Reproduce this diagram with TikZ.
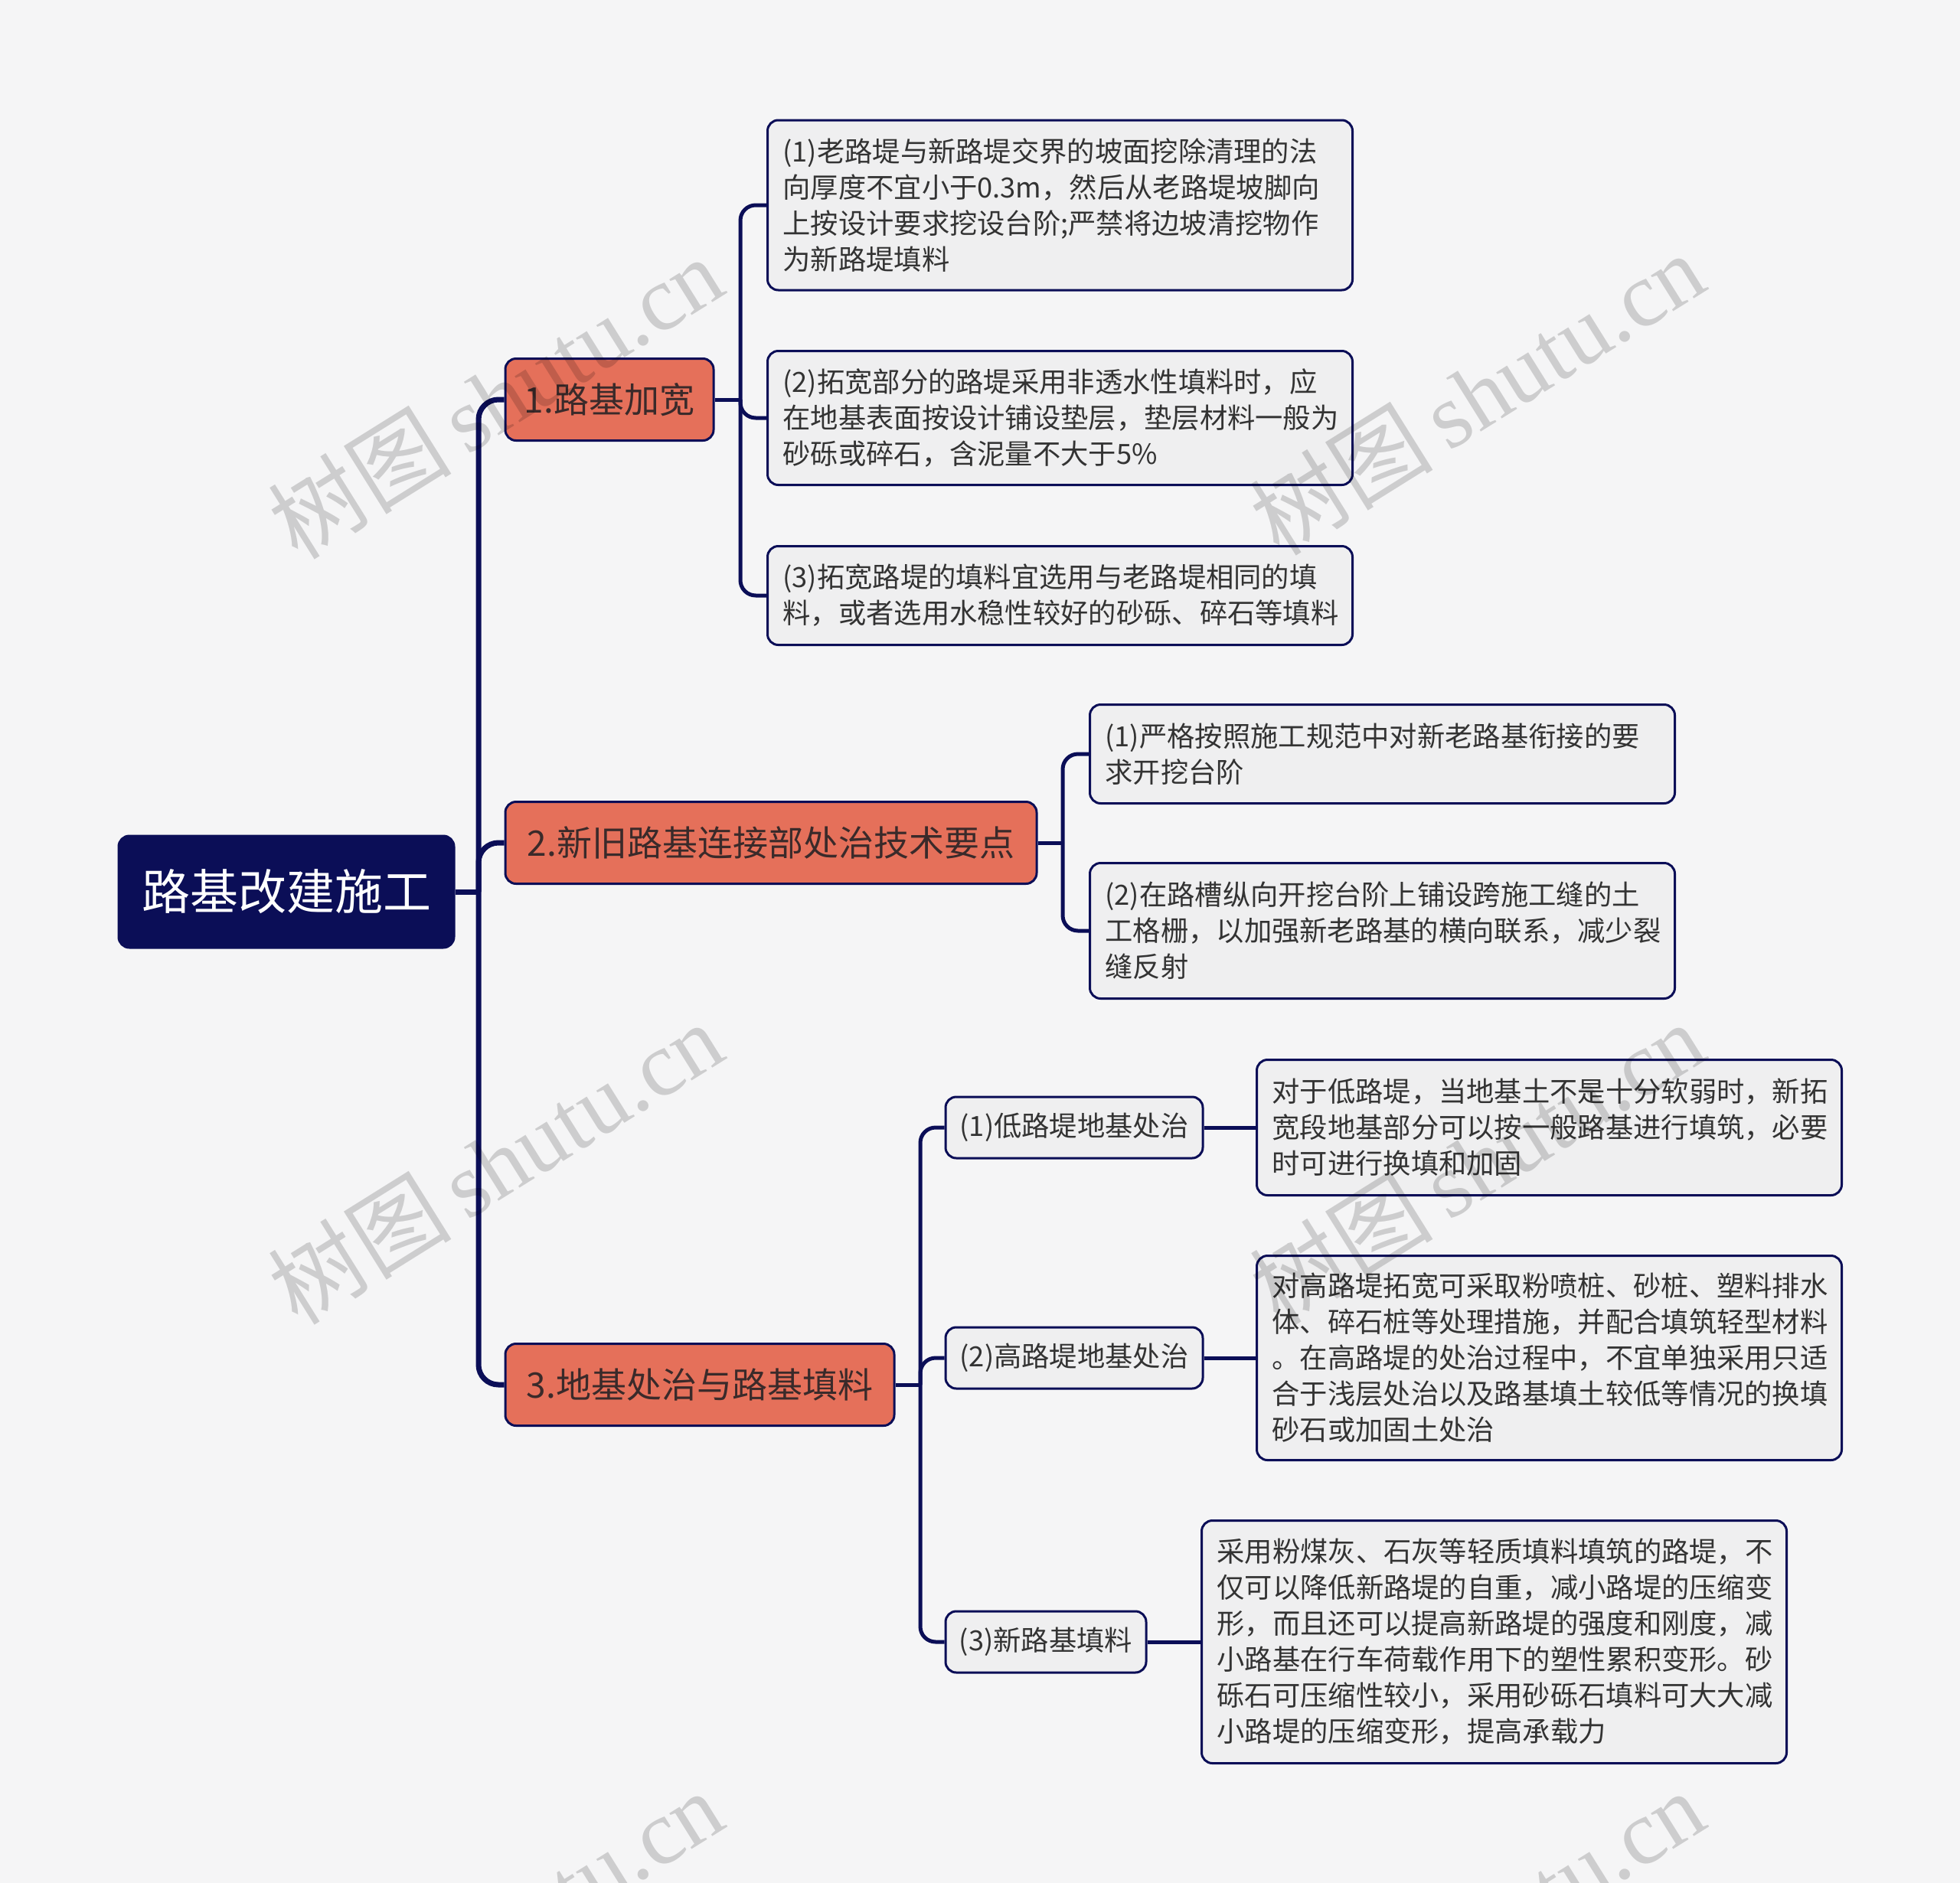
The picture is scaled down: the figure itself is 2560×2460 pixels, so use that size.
\documentclass[tikz,border=0pt]{standalone}
\usepackage{fontspec}
\setmainfont{Noto Sans CJK SC}
\newfontfamily\wmlatin{Liberation Serif}
\newfontfamily\wmcjk{Noto Sans CJK SC}
\definecolor{bgc}{HTML}{F5F5F6}
\definecolor{navy}{HTML}{0B0E57}
\definecolor{salmon}{HTML}{E5705A}
\definecolor{leaffill}{HTML}{EFEFF0}
\definecolor{txt}{HTML}{333333}
\definecolor{ltxt}{HTML}{3A2A2A}
\tikzset{
  box/.style={draw=navy, line width=3pt, rounded corners=14pt, text=txt},
  rootbox/.style={box, fill=navy, text=white, font=\fontsize{63}{72}\selectfont, minimum width=438pt, minimum height=146pt, inner sep=0pt},
  lonebox/.style={box, fill=salmon, text=ltxt, font=\fontsize{46}{54}\selectfont, minimum height=107pt, inner sep=0pt},
  leaf/.style={box, fill=leaffill, font=\fontsize{36.3}{47}\selectfont, align=left, inner xsep=20pt, inner ysep=0pt, text width=724pt, anchor=west},
  smallbox/.style={box, fill=leaffill, font=\fontsize{36.3}{47}\selectfont, minimum height=80pt, inner sep=0pt},
  trunk/.style={draw=navy, line width=7pt, rounded corners=26pt},
  conn/.style={draw=navy, line width=5pt, rounded corners=20pt},
  wmark/.style={text=black, text opacity=0.16, rotate=32, font=\fontsize{120}{130}\selectfont, inner sep=0pt}
}
\begin{document}
\begin{tikzpicture}[x=1pt,y=-1pt]
\useasboundingbox (0,0) rectangle (2560,2460);
\fill[bgc] (0,0) rectangle (2560,2460);

% nodes
\node[rootbox] (root) at (374,1165) {路基改建施工};
\node[lonebox, minimum width=272pt] (n1) at (796,522) {1.路基加宽};
\node[lonebox, minimum width=694pt] (n2) at (1007,1101) {2.新旧路基连接部处治技术要点};
\node[lonebox, minimum width=508pt] (n3) at (914,1809) {3.地基处治与路基填料};

\node[leaf, minimum height=222pt] (c11) at (1001,268) {(1)老路堤与新路堤交界的坡面挖除清理的法\\向厚度不宜小于0.3m，然后从老路堤坡脚向\\上按设计要求挖设台阶;严禁将边坡清挖物作\\为新路堤填料};
\node[leaf, minimum height=175pt] (c12) at (1001,546) {(2)拓宽部分的路堤采用非透水性填料时，应\\在地基表面按设计铺设垫层，垫层材料一般为\\砂砾或碎石，含泥量不大于5\%};
\node[leaf, minimum height=129pt] (c13) at (1001,778) {(3)拓宽路堤的填料宜选用与老路堤相同的填\\料，或者选用水稳性较好的砂砾、碎石等填料};

\node[leaf, minimum height=129pt] (c21) at (1422,985) {(1)严格按照施工规范中对新老路基衔接的要\\求开挖台阶};
\node[leaf, minimum height=177pt] (c22) at (1422,1216) {(2)在路槽纵向开挖台阶上铺设跨施工缝的土\\工格栅，以加强新老路基的横向联系，减少裂\\缝反射};

\node[smallbox, minimum width=336pt] (c31) at (1403,1473) {(1)低路堤地基处治};
\node[smallbox, minimum width=336pt] (c32) at (1403,1774) {(2)高路堤地基处治};
\node[smallbox, minimum width=262pt] (c33) at (1366,2145) {(3)新路基填料};

\node[leaf, minimum height=177pt] (d31) at (1640,1473) {对于低路堤，当地基土不是十分软弱时，新拓\\宽段地基部分可以按一般路基进行填筑，必要\\时可进行换填和加固};
\node[leaf, minimum height=267pt] (d32) at (1640,1774) {对高路堤拓宽可采取粉喷桩、砂桩、塑料排水\\体、碎石桩等处理措施，并配合填筑轻型材料\\。在高路堤的处治过程中，不宜单独采用只适\\合于浅层处治以及路基填土较低等情况的换填\\砂石或加固土处治};
\node[leaf, minimum height=317pt] (d33) at (1568,2145) {采用粉煤灰、石灰等轻质填料填筑的路堤，不\\仅可以降低新路堤的自重，减小路堤的压缩变\\形，而且还可以提高新路堤的强度和刚度，减\\小路基在行车荷载作用下的塑性累积变形。砂\\砾石可压缩性较小，采用砂砾石填料可大大减\\小路堤的压缩变形，提高承载力};

% junctions
\coordinate (j0) at (625,1165);
\coordinate (j1) at (967,522);
\coordinate (j2) at (1388,1101);
\coordinate (j3) at (1202,1809);

% connectors
\draw[trunk] (root.east) -- (j0);
\draw[trunk] (j0) |- (n1.west);
\draw[trunk] (j0) |- (n2.west);
\draw[trunk] (j0) |- (n3.west);

\draw[conn] (n1.east) -- (j1);
\draw[conn] (j1) |- (c11.west);
\draw[conn] (j1) |- (c12.west);
\draw[conn] (j1) |- (c13.west);

\draw[conn] (n2.east) -- (j2);
\draw[conn] (j2) |- (c21.west);
\draw[conn] (j2) |- (c22.west);

\draw[conn] (n3.east) -- (j3);
\draw[conn] (j3) |- (c31.west);
\draw[conn] (j3) |- (c32.west);
\draw[conn] (j3) |- (c33.west);

\draw[conn] (c31.east) -- (d31.west);
\draw[conn] (c32.east) -- (d32.west);
\draw[conn] (c33.east) -- (d33.west);

% watermarks
\foreach \wx/\wy [count=\i] in {647/519, 1929/514, 647/1519, 1929/1519, 647/2523, 1929/2523}{
  \node[wmark] (wm\i) at (\wx,\wy) {\wmcjk 树图\,\wmlatin shutu.cn};
}
\end{tikzpicture}
\end{document}
